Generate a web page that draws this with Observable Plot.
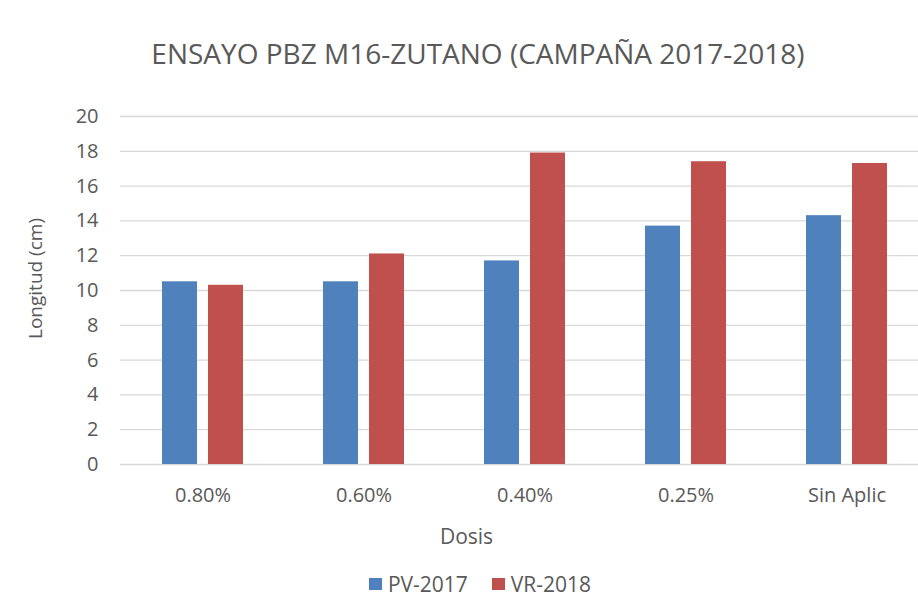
<!DOCTYPE html>
<html>
<head>
<meta charset="utf-8">
<script src="https://cdn.jsdelivr.net/npm/d3@7"></script>
<script src="https://cdn.jsdelivr.net/npm/@observablehq/plot@0.6"></script>
<style>
  html, body { margin: 0; padding: 0; background: #fff; overflow: hidden; }
  body { width: 918px; height: 610px; position: relative; font-family: "Open Sans", sans-serif; color: #595959; }
  #title { position: absolute; left: 19px; width: 918px; top: 33px; text-align: center; font-size: 28px; line-height: 40px; color: #595959; white-space: nowrap; }
  #chart { position: absolute; left: 0; top: 90px; }
  #legend { position: absolute; left: 21px; width: 918px; top: 570px; display: flex; justify-content: center; gap: 24px; font-size: 21px; line-height: 28px; }
  #legend span.item { display: flex; align-items: center; gap: 6px; }
  #legend span.sw { width: 13px; height: 12px; display: inline-block; }
</style>
</head>
<body>
<div id="title">ENSAYO PBZ M16-ZUTANO (CAMPAÑA 2017-2018)</div>
<div id="chart"></div>
<div id="legend"></div>
<script>
const dosis = ["0.80%", "0.60%", "0.40%", "0.25%", "Sin Aplic"];
const pv2017 = [10.5, 10.5, 11.7, 13.7, 14.3];
const vr2018 = [10.3, 12.1, 17.9, 17.4, 17.3];
const seriesNames = ["PV-2017", "VR-2018"];
const seriesColors = ["#4f81bd", "#c0504d"];
const yTicks = [0, 2, 4, 6, 8, 10, 12, 14, 16, 18, 20];
const yLabel = "Longitud (cm)";
const xLabel = "Dosis";

const dataPV = dosis.map((d, i) => ({dosis: d, value: pv2017[i]}));
const dataVR = dosis.map((d, i) => ({dosis: d, value: vr2018[i]}));

const plot = Plot.plot({
  width: 918,
  height: 470,
  marginTop: 26,
  marginBottom: 96,
  marginLeft: 120,
  marginRight: 0,
  style: {fontFamily: "'Open Sans', sans-serif", fontSize: "20px", color: "#595959", background: "transparent"},
  x: {type: "band", domain: dosis, range: [122, 927], padding: 0},
  y: {domain: [0, 20]},
  marks: [
    Plot.gridY(yTicks, {stroke: "#d9d9d9", strokeOpacity: 1, strokeWidth: 1.3}),
    Plot.barY(dataPV, {x: "dosis", y: "value", fill: seriesColors[0], insetLeft: 40, insetRight: 86}),
    Plot.barY(dataVR, {x: "dosis", y: "value", fill: seriesColors[1], insetLeft: 86, insetRight: 40}),
    Plot.axisY({ticks: yTicks, tickSize: 0, tickPadding: 22, fontSize: 20, label: null}),
    Plot.text([yLabel], {frameAnchor: "left", dx: -85, dy: -12, rotate: -90, textAnchor: "middle", lineAnchor: "middle", fontSize: 19, fill: "#595959"}),
    Plot.axisX({tickSize: 0, tickPadding: 23, fontSize: 20, label: null}),
    Plot.text([xLabel], {frameAnchor: "bottom", dx: -53, dy: 73, textAnchor: "middle", lineAnchor: "middle", fontSize: 21, fill: "#595959"})
  ]
});
document.getElementById("chart").appendChild(plot);

const legend = document.getElementById("legend");
seriesNames.forEach((name, i) => {
  const item = document.createElement("span");
  item.className = "item";
  const sw = document.createElement("span");
  sw.className = "sw";
  sw.style.background = seriesColors[i];
  item.appendChild(sw);
  item.appendChild(document.createTextNode(name));
  legend.appendChild(item);
});
</script>
</body>
</html>
